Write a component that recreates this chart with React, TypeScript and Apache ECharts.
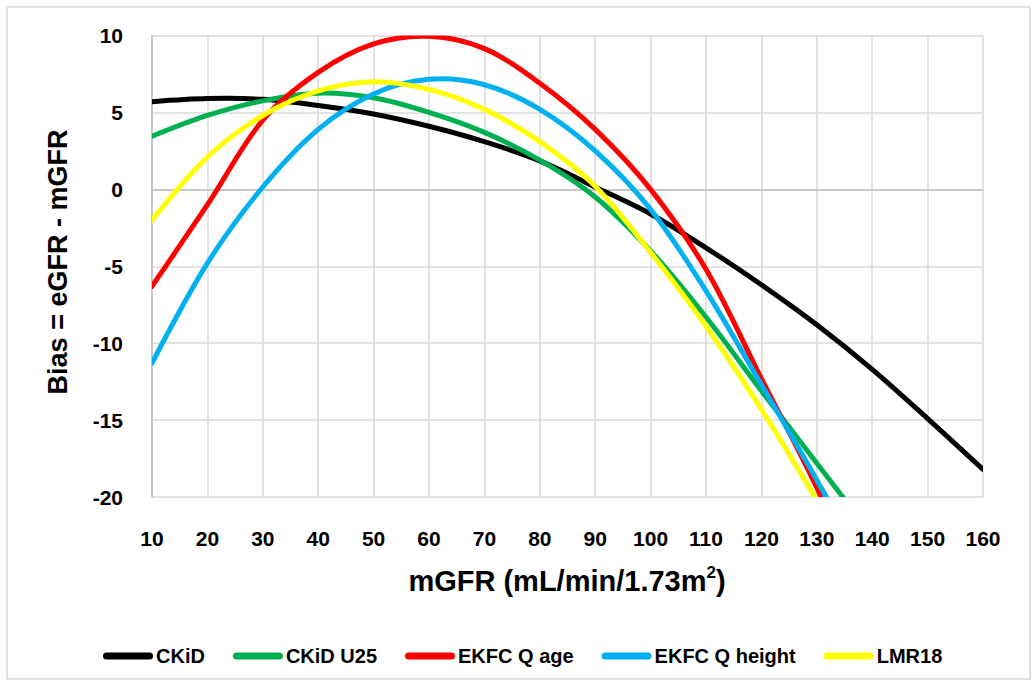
import React, { useEffect, useRef } from "react";
import * as echarts from "echarts";

// mGFR sample points (mL/min/1.73m²)
const mgfr = [10, 20, 30, 40, 50, 60, 70, 80, 90, 100, 110, 120, 130, 140, 150, 160];

// Bias (eGFR - mGFR) per equation at each mGFR point
const ckid = [5.7, 5.9, 5.85, 5.45, 4.9, 4.1, 3.1, 1.85, 0.15, -1.6, -3.8, -6.2, -8.8, -11.7, -14.9, -18.2];
const ckidU25 = [3.45, 4.8, 5.75, 6.25, 5.95, 5.0, 3.7, 1.9, -0.5, -4.0, -8.3, -13.1, -17.8, -22.5];
const ekfcAge = [-6.3, -1.0, 4.5, 7.6, 9.45, 9.95, 9.15, 6.9, 3.9, 0.0, -5.2, -12.3, -19.4, -27.5];
const ekfcHeight = [-11.3, -4.8, 0.15, 3.9, 6.2, 7.15, 6.8, 5.2, 2.5, -1.3, -6.6, -12.7, -18.9, -25.5];
const lmr18 = [-2.0, 2.1, 4.8, 6.4, 7.0, 6.5, 5.2, 3.1, 0.2, -4.1, -8.9, -14.3, -20.2, -26.3];

const seriesNames = ["CKiD", "CKiD U25", "EKFC Q age", "EKFC Q height", "LMR18"];
const seriesColors = ["#000000", "#00b050", "#ff0000", "#00b0f0", "#ffff00"];
const seriesValues = [ckid, ckidU25, ekfcAge, ekfcHeight, lmr18];

const yTicks = { min: -20, max: 10, interval: 5 };
const xTicks = { min: 10, max: 160, interval: 10 };

const FONT = "'Liberation Sans', Arial, sans-serif";
const NARROW = "'Liberation Sans Narrow', 'Liberation Sans', Arial, sans-serif";

export default function App() {
  const ref = useRef<HTMLDivElement>(null);

  useEffect(() => {
    if (!ref.current) return;
    const chart = echarts.init(ref.current, null, { renderer: "svg" });

    // Each curve is one smoothed polyline through its points, mapped by the cartesian axes.
    const series = seriesNames.map((name, i) => {
      const values = seriesValues[i];
      const color = seriesColors[i];
      return {
        name,
        type: "custom",
        coordinateSystem: "cartesian2d",
        clip: true,
        itemStyle: { color },
        encode: { x: 0, y: 1 },
        data: values.map((v, k) => [mgfr[k], v]),
        renderItem: (params: any, api: any) => {
          if (params.dataIndex !== 0) return null;
          const points = values.map((v, k) => api.coord([mgfr[k], v]));
          return {
            type: "polyline",
            shape: { points, smooth: 0.33 },
            style: { stroke: color, lineWidth: 5, fill: "none", lineJoin: "round", lineCap: "round" },
          };
        },
      };
    });

    chart.setOption({
      animation: false,
      backgroundColor: "#ffffff",
      grid: { left: 152, right: 50, top: 35.5, bottom: 189, containLabel: false },
      xAxis: {
        type: "value",
        min: xTicks.min,
        max: xTicks.max,
        interval: xTicks.interval,
        axisLine: { show: true, lineStyle: { color: "#bfbfbf", width: 1.5 } },
        axisTick: { show: false },
        axisLabel: { color: "#000", fontSize: 21, fontWeight: "bold", fontFamily: FONT, margin: 31 },
        splitLine: { show: true, lineStyle: { color: "#d9d9d9", width: 1.5 } },
      },
      yAxis: {
        type: "value",
        min: yTicks.min,
        max: yTicks.max,
        interval: yTicks.interval,
        axisLine: { show: true, lineStyle: { color: "#bfbfbf", width: 1.5 } },
        axisTick: { show: false },
        axisLabel: { color: "#000", fontSize: 21, fontWeight: "bold", fontFamily: FONT, margin: 29 },
        splitLine: { show: true, lineStyle: { color: "#d9d9d9", width: 1.5 } },
      },
      legend: {
        left: 98,
        top: 641,
        itemWidth: 50,
        itemHeight: 7,
        itemGap: 28,
        icon: "path://M3.5,0 L46.5,0 A3.5,3.5 0 0 1 46.5,7 L3.5,7 A3.5,3.5 0 0 1 3.5,0 Z",
        textStyle: { color: "#000", fontSize: 20, fontWeight: "bold", fontFamily: NARROW, padding: [0, 0, 0, -2] },
        data: seriesNames,
      },
      graphic: [
        {
          type: "rect",
          silent: true,
          shape: { x: 7, y: 7, width: 1023, height: 672 },
          style: { fill: "none", stroke: "#d9d9d9", lineWidth: 1.5 },
        },
        {
          type: "text",
          x: 58,
          y: 262,
          rotation: Math.PI / 2,
          style: {
            text: "Bias = eGFR - mGFR",
            fill: "#000",
            fontSize: 27,
            fontWeight: "bold",
            fontFamily: FONT,
            align: "center",
            verticalAlign: "middle",
          },
        },
        {
          type: "text",
          x: 567,
          y: 581,
          style: {
            text: "{a|mGFR (mL/min/1.73m}{s|2}{a|)}",
            fill: "#000",
            align: "center",
            verticalAlign: "middle",
            rich: {
              a: { fontSize: 29, fontWeight: "bold", fontFamily: FONT, fill: "#000", lineHeight: 34 },
              s: { fontSize: 17, fontWeight: "bold", fontFamily: FONT, fill: "#000", verticalAlign: "top", lineHeight: 34 },
            },
          },
        },
      ],
      series,
    });

    return () => chart.dispose();
  }, []);

  return (
    <div
      ref={ref}
      style={{ position: "absolute", left: 0, top: 0, width: 1033, height: 686, background: "#fff" }}
    />
  );
}
